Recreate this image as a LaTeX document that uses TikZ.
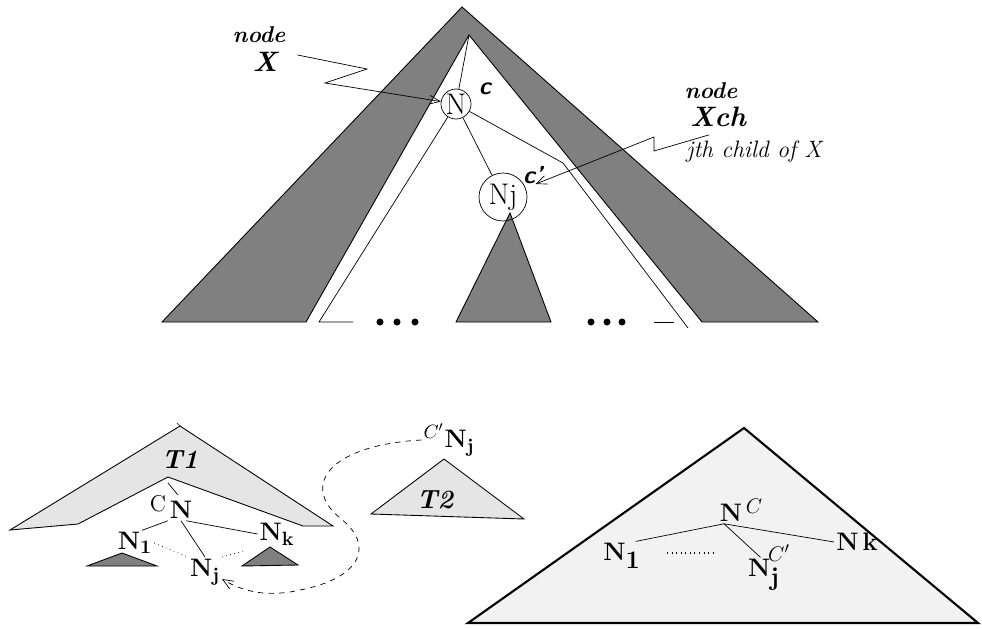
\documentclass[tikz,border=0pt]{standalone}
\usepackage{amsmath,amssymb}
\usepackage{tikz}
\usetikzlibrary{arrows.meta,calc,positioning}
\newcommand{\Nb}{\mathbf{N}}

\begin{document}
\begin{tikzpicture}[x=0.02cm,y=-0.02cm,
  darkfill/.style={fill=black!50,draw=black,line width=0.5pt},
  lightfill/.style={fill=black!10,draw=black,line width=0.5pt},
  bigtri/.style={fill=black!5,draw=black,line width=1.2pt},
  ringnode/.style={circle,draw,inner sep=0pt,font=\fontsize{17}{17}\selectfont},
  tagc/.style={font=\fontsize{14}{14}\selectfont\sffamily\bfseries\itshape},
  wordit/.style={font=\fontsize{13}{13}\selectfont\bfseries\itshape},
  bigit/.style={font=\fontsize{16}{16}\selectfont\bfseries\itshape},
  smallit/.style={font=\fontsize{13.5}{14}\selectfont\itshape},
  tname/.style={font=\fontsize{15}{15}\selectfont\bfseries\itshape},
  nlbl/.style={inner sep=1pt,font=\fontsize{15.5}{15.5}\selectfont},
  clbl/.style={inner sep=1pt,font=\fontsize{13}{13}\selectfont},
  openarr/.style={-{Straight Barb[length=6pt,width=5pt]}}]
  \useasboundingbox (0,0) rectangle (982,628);
  % upper tree
  \filldraw[darkfill] (306,322) -- (162,322) -- (462,7) -- (818,322) -- (702,322) -- (469,35) -- cycle;
  \filldraw[darkfill] (456,322) -- (510,213) -- (551,322) -- cycle;
  \node[ringnode,minimum size=0.6cm] (N) at (456,104) {N};
  \node[ringnode,minimum size=0.96cm] (Nj) at (503,197) {Nj};
  \node[tagc] (cN) at (485,89) {c};
  \node[tagc] (cNj) at (533,175) {c'};
  \coordinate (apexin) at (469,35);
  \coordinate (lbase) at (319,322);
  \coordinate (bend) at (563,163);
  \coordinate (rbase) at (688,328);
  \draw (apexin) -- (N);
  \draw (N) -- (lbase) -- ++(34,0);
  \draw (N) -- (bend) -- (rbase);
  \draw (N) -- (Nj);
  \draw (654,322) -- (674,322);
  \foreach \x in {380,397,415,591,607,622}
    \fill (\x,322) circle (2pt);
  % pointers
  \node[wordit] (wnode) at (259,35) {node};
  \node[bigit] (wX) at (265,62) {X};
  \draw[openarr] ([xshift=8pt,yshift=4pt]wX.east) -- (367,69) -- (325,83) -- (N);
  \node[wordit] (wnode2) at (711,91) {node};
  \node[bigit] (wXch) at (718,117) {Xch};
  \node[smallit] (wjth) at (754,152) {jth child of X};
  \draw[openarr,shorten >=6pt] ([xshift=-5pt,yshift=-1pt]wXch.south) -- (654,151) -- (654,137) -- (Nj);
  % lower left: T1 and T2
  \filldraw[lightfill] (180,426) -- (10,530) -- (78,524) -- (168,477) -- (303,526) -- (333,526) -- cycle;
  \draw (177,423) -- (180,426);
  \node[tname] (T1) at (180,460) {T1};
  \filldraw[darkfill] (87,566) -- (122,553) -- (157,566) -- cycle;
  \filldraw[darkfill] (242,566) -- (270,547) -- (298,565) -- cycle;
  \node[nlbl] (bN) at (181,510) {$\Nb$};
  \node[clbl] (bC) at (158,504) {C};
  \node[nlbl] (bN1) at (135,543) {$\Nb_{\mathbf{1}}$};
  \node[nlbl] (bNk) at (277,534) {$\Nb_{\mathbf{k}}$};
  \node[nlbl] (bNj) at (205,572) {$\Nb_{\mathbf{j}}$};
  \draw (168,483) -- (178,495);
  \draw (bN.south west) -- ([xshift=4pt]bN1.north);
  \draw ([xshift=3pt]bN.south) -- (bNk.west);
  \draw (bN.south) -- (bNj.north);
  \draw[dotted] (bN1.east) -- (bNj.north west);
  \draw[dotted,shorten >=8pt] (bNj.north east) -- (bNk.south west);
  \filldraw[lightfill] (371,514) -- (444,459) -- (524,519) -- cycle;
  \node[tname] (T2) at (435,500) {T2};
  \node[nlbl] (tNj) at (449,440) {$^{C'}\Nb_{\mathbf{j}}$};
  \draw[dashed,openarr] (tNj.west) .. controls (330,445) and (300,485) .. (340,518)
    .. controls (375,545) and (362,578) .. (300,590)
    .. controls (270,597) and (245,593) .. ([yshift=-4pt]bNj.east);
  % lower right: merged tree
  \filldraw[bigtri] (468,623) -- (744,428) -- (978,623) -- cycle;
  \node[nlbl] (rN) at (731,513) {$\Nb$};
  \node[clbl] (rC) at (754,506) {$C$};
  \node[nlbl] (rN1) at (622,556) {$\Nb_{\textstyle\mathbf{1}}$};
  \node[nlbl] (rNk) at (857,542) {$\Nb\,\mathbf{k}$};
  \node[nlbl] (rNj) at (764,575) {$\Nb_{\textstyle\mathbf{j}}$};
  \node[clbl] (rC2) at (779,553) {$C'$};
  \draw ([xshift=-4pt]rN.south) -- ([xshift=-4pt]rN1.north east);
  \draw ([xshift=-4pt]rN.south) -- (rNk.west);
  \draw ([xshift=-4pt]rN.south) -- ([xshift=-2pt]rNj.north);
  \draw[dotted,line width=0.6pt] (667,553) -- (715,553);
\end{tikzpicture}
\end{document}
